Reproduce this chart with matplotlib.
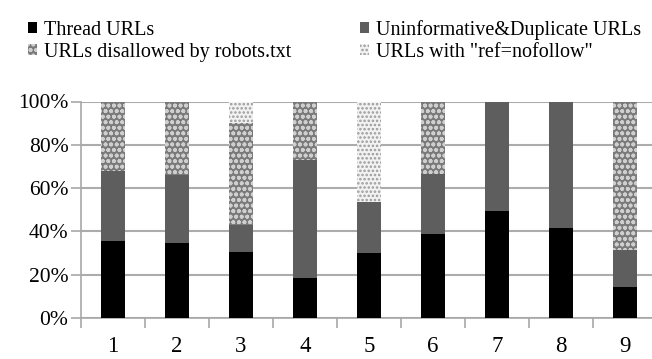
import matplotlib
matplotlib.use("Agg")
import matplotlib.pyplot as plt
from matplotlib.patches import Rectangle
from matplotlib.ticker import FixedLocator, PercentFormatter
import numpy as np

categories = ["1", "2", "3", "4", "5", "6", "7", "8", "9"]
thread = [35.7, 34.5, 30.7, 18.3, 29.9, 38.8, 49.2, 41.5, 14.2]
uninformative = [32.0, 31.6, 12.3, 54.7, 23.9, 27.8, 50.8, 58.5, 17.2]
robots = [32.3, 33.9, 47.0, 27.0, 0.0, 33.4, 0.0, 0.0, 68.6]
nofollow = [0.0, 0.0, 10.0, 0.0, 46.2, 0.0, 0.0, 0.0, 0.0]
series_labels = ["Thread URLs", "Uninformative&Duplicate URLs",
                 "URLs disallowed by robots.txt", "URLs with \"ref=nofollow\""]

plt.rcParams["font.family"] = ["Liberation Serif", "DejaVu Serif"]
plt.rcParams["hatch.linewidth"] = 1.2

fig = plt.figure(figsize=(6.52, 3.59), dpi=100)
ax = fig.add_axes([81 / 652, 41 / 359, 576 / 652, 216.5 / 359])

x = np.arange(1, len(categories) + 1)
w = 0.36
styles = [
    dict(color="#000000"),
    dict(color="#5e5e5e"),
    dict(facecolor="#7a7a7a", edgecolor="#cfcfcf", hatch="ooo"),
    dict(facecolor="#f2f2f2", edgecolor="#9a9a9a", hatch="...."),
]
bottom = np.zeros(len(categories))
handles = []
for vals, st, lab in zip([thread, uninformative, robots, nofollow], styles, series_labels):
    v = np.array(vals)
    ax.bar(x, v, w, bottom=bottom, linewidth=0, zorder=3, **st)
    bottom += v
    handles.append(Rectangle((0, 0), 1, 1, linewidth=0, label=lab, **st))

ax.set_xlim(0.5, 9.5)
ax.set_ylim(0, 100)
ax.set_yticks(np.arange(0, 101, 20))
ax.yaxis.set_major_formatter(PercentFormatter(decimals=0))
ax.set_xticks(x)
ax.set_xticklabels(categories)
ax.xaxis.set_minor_locator(FixedLocator(np.arange(0.5, 9.6, 1)))
ax.tick_params(axis="x", which="major", length=0, labelsize=16.5, pad=13)
ax.tick_params(axis="x", which="minor", length=7, width=1.2, color="#a8a8a8", direction="out")
ax.tick_params(axis="y", which="major", length=7, width=1.2, color="#a8a8a8", labelsize=15.5, pad=2)
ax.grid(axis="y", color="#acacac", linewidth=1.5, zorder=0)
for s in ["top", "right"]:
    ax.spines[s].set_visible(False)
for s in ["left", "bottom"]:
    ax.spines[s].set_color("#a8a8a8")
    ax.spines[s].set_linewidth(1.2)

order = [handles[0], handles[2], handles[1], handles[3]]
fig.legend(handles=order, labels=[h.get_label() for h in order], ncol=2,
           loc="upper left", bbox_to_anchor=(28 / 652, 1 - 20 / 359),
           frameon=False, fontsize=14.5, handlelength=0.45, handleheight=0.45,
           handletextpad=0.35, columnspacing=3.4, labelspacing=0.15,
           borderpad=0, borderaxespad=0)

fig.savefig("out.png", dpi=100)
